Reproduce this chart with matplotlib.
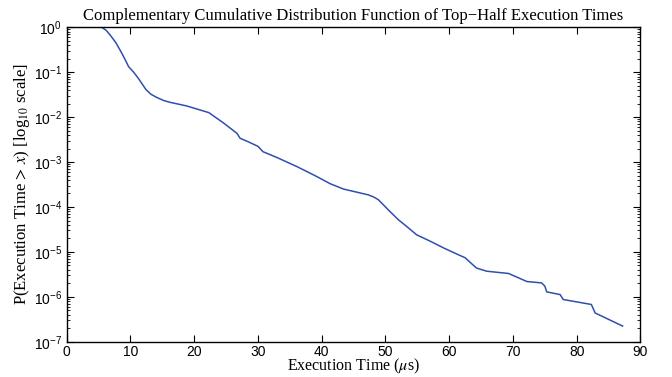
import numpy as np
import matplotlib.pyplot as plt

plt.rcParams['font.family'] = ['Liberation Sans', 'DejaVu Sans']
plt.rcParams['mathtext.fontset'] = 'stix'

# execution time (us) and log10 of P(T > x)
exec_time = [0.0, 5.5, 6.2, 6.8, 7.7, 8.5, 9.2, 9.7, 10.5, 11.2, 12.4, 13.2, 14.1,
             15.2, 16.2, 18.8, 20.9, 22.3, 23.5, 24.6, 26.7, 27.2, 28.5, 30.0, 30.8,
             33.0, 36.1, 39.2, 41.3, 43.4, 45.5, 47.3, 48.2, 48.9, 50.7, 52.0, 53.3,
             54.9, 57.0, 59.1, 61.7, 62.5, 63.5, 64.3, 65.9, 69.3, 70.6, 72.2, 74.5,
             75.0, 75.3, 77.4, 77.9, 82.3, 82.9, 87.2]
log_ccdf = [0.0, 0.0, -0.07, -0.17, -0.34, -0.54, -0.73, -0.875, -1.00, -1.13, -1.38,
            -1.49, -1.56, -1.63, -1.67, -1.75, -1.84, -1.90, -2.02, -2.13, -2.36, -2.47,
            -2.55, -2.65, -2.77, -2.90, -3.10, -3.32, -3.48, -3.60, -3.67, -3.73, -3.78,
            -3.84, -4.10, -4.28, -4.43, -4.62, -4.76, -4.91, -5.08, -5.13, -5.26, -5.36,
            -5.43, -5.48, -5.56, -5.66, -5.69, -5.76, -5.89, -5.95, -6.06, -6.17, -6.36,
            -6.65]

ccdf = 10.0 ** np.array(log_ccdf)

fig = plt.figure(figsize=(6.72, 3.77), dpi=100)
ax = fig.add_axes([0.0993, 0.0935, 0.8537, 0.8341])
ax.plot(exec_time, ccdf, color='#2f4fb0', linewidth=1.1)
ax.set_yscale('log')
ax.set_xlim(0, 90)
ax.set_ylim(1e-7, 1)
ax.set_xticks(range(0, 91, 10))
ax.set_yticks([10.0 ** k for k in range(-7, 1)])

ax.tick_params(which='both', direction='in', top=True, right=True, labelsize=10)
ax.tick_params(which='major', length=5)
ax.tick_params(which='minor', length=2.5)
ax.tick_params(axis='x', pad=2)
for s in ax.spines.values():
    s.set_linewidth(1.0)

serif = ['Liberation Serif', 'DejaVu Serif']
ax.set_title('Complementary Cumulative Distribution Function of Top\u2212Half Execution Times',
             family=serif, fontsize=12, pad=5)
ax.set_xlabel(r'Execution Time ($\mu$s)', family=serif, fontsize=11.5, labelpad=-1)
ax.set_ylabel(r'P(Execution Time$\,>\,x$) [log$_{10}$ scale]', family=serif, fontsize=12, labelpad=1)

fig.savefig('out.png', dpi=100)
